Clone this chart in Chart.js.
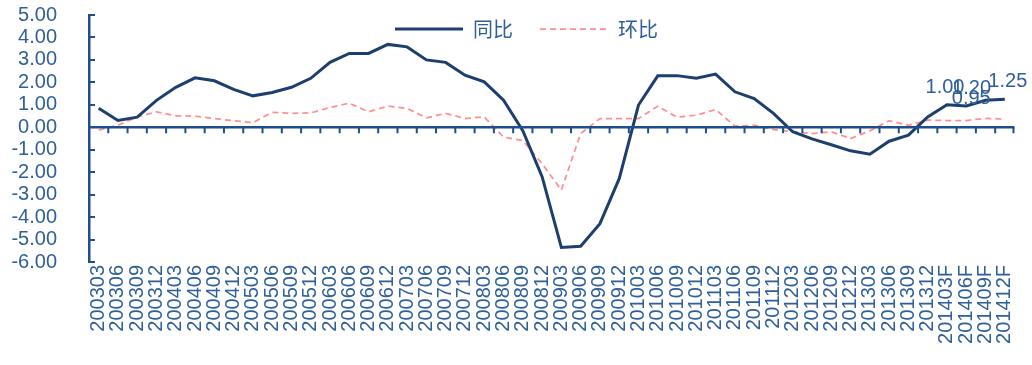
<!DOCTYPE html>
<html>
<head>
<meta charset="utf-8">
<script src="https://cdn.jsdelivr.net/npm/chart.js@4.4.1/dist/chart.umd.min.js"></script>
<style>
  html, body { margin: 0; padding: 0; background: #fff; }
  #wrap { width: 1032px; height: 365px; }
</style>
</head>
<body>
<div id="wrap"><canvas id="chart"></canvas></div>
<script>
// Quarter labels (F = forecast)
const quarters = [
    '200303', '200306', '200309', '200312', '200403', '200406', '200409', '200412',
    '200503', '200506', '200509', '200512', '200603', '200606', '200609', '200612',
    '200703', '200706', '200709', '200712', '200803', '200806', '200809', '200812',
    '200903', '200906', '200909', '200912', '201003', '201006', '201009', '201012',
    '201103', '201106', '201109', '201112', '201203', '201206', '201209', '201212',
    '201303', '201306', '201309', '201312', '201403F', '201406F', '201409F', '201412F'
];

// 同比 (year on year)
const yoy = [
    0.85, 0.30, 0.45, 1.20, 1.78, 2.20, 2.07, 1.69,
    1.40, 1.55, 1.78, 2.18, 2.89, 3.29, 3.29, 3.69,
    3.58, 3.00, 2.89, 2.32, 2.02, 1.21, -0.15, -2.20,
    -5.35, -5.30, -4.29, -2.29, 0.99, 2.29, 2.30, 2.18,
    2.37, 1.58, 1.28, 0.62, -0.20, -0.52, -0.78, -1.05,
    -1.20, -0.62, -0.35, 0.46, 1.00, 0.95, 1.20, 1.25
];

// 环比 (quarter on quarter)
const qoq = [
    -0.13, 0.09, 0.46, 0.69, 0.51, 0.50, 0.39, 0.29,
    0.21, 0.66, 0.62, 0.64, 0.88, 1.07, 0.69, 0.94,
    0.84, 0.42, 0.62, 0.39, 0.46, -0.44, -0.59, -1.62,
    -2.80, -0.28, 0.39, 0.39, 0.39, 0.94, 0.45, 0.54,
    0.79, 0.05, 0.09, -0.10, -0.20, -0.28, -0.20, -0.50,
    -0.16, 0.29, 0.09, 0.32, 0.30, 0.30, 0.40, 0.36
];

// y axis tick values
const yTicks = [5, 4, 3, 2, 1, 0, -1, -2, -3, -4, -5, -6];

// only the forecast points carry a value label
const labelledPoints = [44, 45, 46, 47];

const AXIS = '#1F4E8C';
const TEXT = '#2F6099';
const NAVY = '#1C3F6E';
const PINK = '#FF9090';

// zero line with small tick marks between categories
const zeroAxis = {
    id: 'zeroAxis',
    afterDatasetsDraw(chart) {
        const { ctx, chartArea, scales: { x, y } } = chart;
        const y0 = y.getPixelForValue(0);
        ctx.save();
        ctx.strokeStyle = AXIS;
        ctx.lineWidth = 2.5;
        ctx.beginPath();
        ctx.moveTo(chartArea.left, y0);
        ctx.lineTo(chartArea.right, y0);
        ctx.stroke();
        ctx.lineWidth = 2;
        ctx.beginPath();
        for (let i = 1; i <= quarters.length; i++) {
            const px = i < quarters.length
                ? (x.getPixelForValue(i - 1) + x.getPixelForValue(i)) / 2
                : chartArea.right - 1;
            ctx.moveTo(px, y0);
            ctx.lineTo(px, y0 + 6);
        }
        ctx.stroke();
        ctx.restore();
    }
};

// value labels for the forecast quarters
const valueLabels = {
    id: 'valueLabels',
    afterDatasetsDraw(chart) {
        const nudge = [[-2, -17], [5, -7], [-14, -12], [3, -18]];
        const meta = chart.getDatasetMeta(0);
        const { ctx } = chart;
        ctx.save();
        ctx.font = '20px "Liberation Sans", Arial, sans-serif';
        ctx.fillStyle = TEXT;
        ctx.textAlign = 'center';
        ctx.textBaseline = 'middle';
        labelledPoints.forEach((idx, k) => {
            const pt = meta.data[idx];
            ctx.fillText(yoy[idx].toFixed(2), pt.x + nudge[k][0], pt.y + nudge[k][1]);
        });
        ctx.restore();
    }
};

// legend takes no room at the top; move it inside the plot, left of centre
const legendSpot = {
    id: 'legendSpot',
    afterLayout(chart) {
        const lg = chart.legend;
        if (!lg) return;
        const pad = lg.options.labels.padding;
        lg.left = chart.chartArea.left + 306 - pad;
        lg.right = lg.left + 400;
        lg.top = chart.chartArea.top + 4 - pad;
        lg.bottom = lg.top + 90;
    }
};

new Chart(document.getElementById('chart'), {
    type: 'line',
    data: {
        labels: quarters,
        datasets: [{
            label: '同比',
            data: yoy,
            borderColor: NAVY,
            backgroundColor: NAVY,
            borderWidth: 3,
            pointRadius: 0,
            tension: 0,
            fill: false
        }, {
            label: '环比',
            data: qoq,
            borderColor: PINK,
            backgroundColor: PINK,
            borderWidth: 1.75,
            borderDash: [6, 4],
            pointRadius: 0,
            tension: 0,
            fill: false
        }]
    },
    options: {
        responsive: true,
        maintainAspectRatio: false,
        animation: false,
        layout: { padding: { top: 14, right: 12, bottom: 0, left: 0 } },
        plugins: {
            legend: {
                position: 'top',
                align: 'start',
                fullSize: false,
                maxHeight: 1,
                labels: {
                    usePointStyle: true,
                    pointStyle: 'line',
                    pointStyleWidth: 68,
                    padding: 27,
                    color: TEXT,
                    font: { family: '"Noto Sans CJK SC", sans-serif', size: 20 },
                    // point styles carry no dash, so take it from the dataset line
                    generateLabels: (chart) => Chart.defaults.plugins.legend.labels
                        .generateLabels(chart)
                        .map(item => {
                            const ds = chart.data.datasets[item.datasetIndex];
                            item.lineDash = ds.borderDash || [];
                            item.lineWidth = ds.borderWidth;
                            item.strokeStyle = ds.borderColor;
                            return item;
                        })
                }
            },
            tooltip: { enabled: false }
        },
        scales: {
            x: {
                offset: true,
                grid: { display: false, drawTicks: false },
                border: { display: false },
                ticks: {
                    autoSkip: false,
                    maxRotation: 90,
                    minRotation: 90,
                    padding: 3,
                    color: TEXT,
                    font: { family: '"Liberation Sans", Arial, sans-serif', size: 20 }
                },
                afterFit: (s) => { s.height = 103; }
            },
            y: {
                min: -6,
                max: 5,
                afterBuildTicks: (s) => { s.ticks = yTicks.map(v => ({ value: v })); },
                grid: {
                    drawOnChartArea: false,
                    drawTicks: true,
                    tickLength: -6,
                    color: AXIS,
                    lineWidth: 2
                },
                border: { color: AXIS, width: 2.5 },
                ticks: {
                    autoSkip: false,
                    padding: 38,
                    color: TEXT,
                    font: { family: '"Liberation Sans", Arial, sans-serif', size: 20 },
                    callback: (v) => Number(v).toFixed(2)
                },
                afterFit: (s) => {
                    s.width = 89;
                    // tick padding would otherwise push the plot down
                    s.paddingTop = 0;
                    s.paddingBottom = 0;
                }
            }
        }
    },
    plugins: [zeroAxis, valueLabels, legendSpot]
});
</script>
</body>
</html>
